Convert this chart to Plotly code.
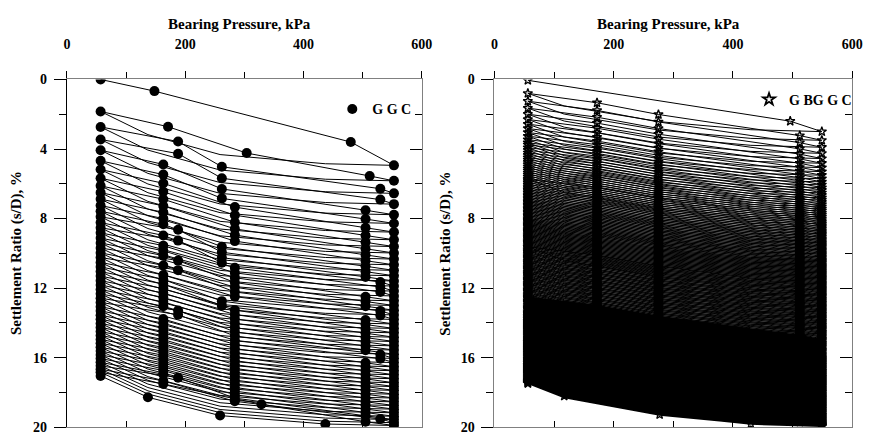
import plotly.graph_objects as go

FONT = "Liberation Serif"

# ---------------- Left panel: G G C ----------------
FIRST_P_L = [57, 148, 480, 553]
FIRST_S_L = [0.0, 0.67, 3.6, 4.94]
S_L = [1.84, 2.73, 3.45, 4.07, 4.68, 5.18, 5.68, 6.12, 6.51, 6.88,
       7.25, 7.58, 7.90, 8.23, 8.53, 8.82, 9.12, 9.40, 9.69, 9.97,
       10.24, 10.52, 10.78, 11.05, 11.31, 11.57, 11.82, 12.08, 12.33, 12.58,
       12.82, 13.07, 13.31, 13.56, 13.79, 14.03, 14.26, 14.50, 14.72, 14.95,
       15.17, 15.40, 15.62, 15.84, 16.05, 16.27, 16.47, 16.66, 16.84]
E_L = [5.83, 6.55, 7.17, 7.78, 8.28, 8.78, 9.22, 9.61, 9.98, 10.33,
       10.66, 10.98, 11.29, 11.59, 11.88, 12.17, 12.45, 12.73, 13.00, 13.27,
       13.54, 13.80, 14.06, 14.32, 14.57, 14.82, 15.07, 15.32, 15.56, 15.80,
       16.04, 16.28, 16.52, 16.75, 16.98, 17.21, 17.44, 17.66, 17.88, 18.10,
       18.32, 18.54, 18.75, 18.96, 19.17, 19.37, 19.56, 19.74, 19.90]
P1_L = [171, 188, 188, 163, 163, 163, 163, 163, 163, 163,
        163, 163, 188, 163, 188, 163, 163, 163, 188, 163,
        188, 163, 163, 163, 163, 163, 163, 163, 163, 188,
        188, 163, 163, 163, 163, 163, 163, 163, 163, 163,
        163, 163, 163, 163, 163, 163, 188, 163, 163]
P2_L = [304, 262, 262, 262, 262, 284, 284, 284, 284, 284,
        284, 262, 262, 262, 262, 284, 284, 284, 284, 284,
        284, 284, 262, 262, 284, 284, 284, 284, 284, 284,
        284, 284, 284, 284, 284, 284, 284, 284, 284, 284,
        284, 284, 284, 284, 284, 284, 284, 284, 329]
P3_L = [512, 530, 530, 505, 505, 505, 505, 505, 505, 505,
        505, 505, 505, 505, 530, 530, 530, 505, 505, 505,
        530, 530, 505, 505, 505, 505, 505, 505, 505, 505,
        530, 530, 505, 505, 505, 505, 505, 505, 505, 505,
        505, 505, 505, 505, 505, 505, 505, 530, 505]
P_MIN_L, P_MAX_L = 57, 553
RELOAD_FRAC_L = [0.0, 0.22, 0.60, 0.93, 1.0]
UNLOAD_P_L = [553, 437, 259, 137, 57]
UNLOAD_FRAC_L = [1.0, 0.97, 0.80, 0.43, 0.0]
S_FINAL_L = 17.05

# ---------------- Right panel: G BG G C ----------------
FIRST_P_R = [56, 496, 549]
FIRST_S_R = [0.05, 2.4, 3.0]
E_R = [3.50, 3.90, 4.25, 4.55, 4.82, 5.07, 5.30, 5.51, 5.71, 5.89,
       6.06, 6.22, 6.37, 6.52, 6.66, 6.80, 6.93, 7.06, 7.19, 7.31,
       7.43, 7.55, 7.67, 7.78, 7.89, 8.00,
       8.10, 8.20, 8.30, 8.40, 8.50, 8.60, 8.69, 8.78, 8.87, 8.96,
       9.05, 9.14, 9.23, 9.31, 9.39, 9.47, 9.55, 9.63, 9.71, 9.79,
       9.87, 9.95, 10.03, 10.11, 10.19, 10.27, 10.35, 10.42, 10.49, 10.56,
       10.63, 10.70, 10.77, 10.84, 10.91, 10.98, 11.05, 11.12, 11.19, 11.26,
       11.33, 11.40, 11.47, 11.54, 11.61, 11.68, 11.75, 11.82, 11.89, 11.96,
       12.03, 12.10, 12.18, 12.24, 12.31, 12.39, 12.45, 12.52, 12.60, 12.66,
       12.73, 12.81, 12.87, 12.94, 13.02, 13.08, 13.15, 13.23, 13.29, 13.36,
       13.44, 13.50, 13.57, 13.65, 13.71, 13.78, 13.86, 13.92, 13.99, 14.07,
       14.13, 14.20, 14.28, 14.34, 14.41, 14.49, 14.55, 14.62, 14.70, 14.76,
       14.83, 14.91, 14.97, 15.04, 15.12, 15.18, 15.25, 15.33, 15.39, 15.46,
       15.54, 15.60, 15.67, 15.75, 15.81, 15.88, 15.96,
       16.01, 16.07, 16.12, 16.18, 16.23, 16.29, 16.34, 16.40, 16.45, 16.51,
       16.56, 16.62, 16.67, 16.73, 16.78, 16.84, 16.89, 16.95, 17.00, 17.06,
       17.11, 17.17, 17.22, 17.28, 17.33, 17.39, 17.44, 17.50, 17.55, 17.61,
       17.66, 17.72, 17.77, 17.83, 17.88, 17.94, 17.99, 18.05, 18.10, 18.16,
       18.21, 18.27, 18.32, 18.38, 18.43, 18.49, 18.54, 18.60, 18.65, 18.71,
       18.76, 18.82, 18.87, 18.93, 18.98, 19.04, 19.09, 19.15, 19.20, 19.26,
       19.31, 19.37, 19.42, 19.48, 19.53, 19.59, 19.64, 19.70, 19.74, 19.79,
       19.83, 19.87, 19.90, 19.93, 19.95]
S_R = [0.80,
       1.25, 1.65, 2.00, 2.30, 2.57, 2.82, 3.05, 3.26, 3.46, 3.64,
       3.76, 3.92, 4.07, 4.22, 4.36, 4.50, 4.63, 4.76, 4.89, 5.01,
       5.13, 5.25, 5.37, 5.48, 5.59, 5.70,
       5.75, 5.85, 5.95, 6.05, 6.15, 6.25, 6.34, 6.43, 6.52, 6.61,
       6.70, 6.79, 6.88, 6.96, 7.04, 7.12, 7.20, 7.28, 7.36, 7.44,
       7.52, 7.60, 7.68, 7.76, 7.84, 7.92, 8.00, 8.07, 8.14, 8.21,
       8.28, 8.35, 8.42, 8.49, 8.56, 8.63, 8.70, 8.77, 8.84, 8.91,
       8.98, 9.05, 9.12, 9.19, 9.26, 9.33, 9.40, 9.47, 9.54, 9.61,
       9.63, 9.70, 9.78, 9.84, 9.91, 9.99, 10.05, 10.12, 10.20, 10.26,
       10.33, 10.41, 10.47, 10.54, 10.62, 10.68, 10.75, 10.83, 10.89, 10.96,
       11.04, 11.10, 11.17, 11.25, 11.31, 11.38, 11.46, 11.52, 11.59, 11.67,
       11.73, 11.80, 11.88, 11.94, 12.01, 12.09, 12.15, 12.22, 12.30, 12.36,
       12.43, 12.51, 12.57, 12.64, 12.72, 12.78, 12.85, 12.93, 12.99, 13.06,
       13.14, 13.20, 13.27, 13.35, 13.41, 13.48, 13.56,
       13.56, 13.62, 13.67, 13.73, 13.78, 13.84, 13.89, 13.95, 14.00, 14.06,
       14.11, 14.17, 14.22, 14.28, 14.33, 14.39, 14.44, 14.50, 14.55, 14.61,
       14.66, 14.72, 14.77, 14.83, 14.88, 14.94, 14.99, 15.05, 15.10, 15.16,
       15.21, 15.27, 15.32, 15.38, 15.43, 15.49, 15.54, 15.60, 15.65, 15.71,
       15.76, 15.82, 15.87, 15.93, 15.98, 16.04, 16.09, 16.15, 16.20, 16.26,
       16.31, 16.37, 16.42, 16.48, 16.53, 16.59, 16.64, 16.70, 16.75, 16.81,
       16.86, 16.92, 16.97, 17.03, 17.08, 17.14, 17.19, 17.25, 17.29, 17.34,
       17.38, 17.42, 17.45, 17.48]
RELOAD_P_R = [56, 172, 275, 512, 549]
RELOAD_FRAC_R = [0.0, 0.20, 0.45, 0.90, 1.0]
UNLOAD_P_R = [549, 430, 277, 117, 56]
UNLOAD_FRAC_R = [1.0, 0.95, 0.74, 0.33, 0.0]
S_FINAL_R = 17.35
DENSE_FROM_R = 118   # cycle index after which the dense (heavier) line styling applies

X_TICKS = [0, 200, 400, 600]
X_MINOR = [100, 300, 500]
Y_TICKS = [0, 4, 8, 12, 16, 20]
Y_MINOR = [2, 6, 10, 14, 18]


def build(first_p, first_s, S, E, reload_pts, reload_frac, unload_p, unload_frac, s_final, split=None):
    segs = [([], [])]
    lx, ly = segs[0]
    lx += list(first_p)
    ly += list(first_s)
    mx, my = list(first_p), list(first_s)
    prev_p, prev = first_p[-1], first_s[-1]
    for k, (s, e) in enumerate(zip(S, E)):
        if split is not None and k == split:
            segs.append(([prev_p], [prev]))
            lx, ly = segs[-1]
        for p, f in zip(unload_p[1:], unload_frac[1:]):
            lx.append(p)
            ly.append(s + f * (prev - s))
        pts = reload_pts(k)
        vals = [s + f * (e - s) for f in reload_frac]
        lx += pts[1:]
        ly += vals[1:]
        mx += pts
        my += vals
        prev_p, prev = pts[-1], e
    for p, f in zip(unload_p[1:], unload_frac[1:]):
        v = s_final + f * (prev - s_final)
        lx.append(p)
        ly.append(v)
        mx.append(p)
        my.append(v)
    return segs, mx, my


segsL, mxL, myL = build(FIRST_P_L, FIRST_S_L, S_L, E_L,
                        lambda k: [P_MIN_L, P1_L[k], P2_L[k], P3_L[k], P_MAX_L],
                        RELOAD_FRAC_L, UNLOAD_P_L, UNLOAD_FRAC_L, S_FINAL_L)
segsR, mxR, myR = build(FIRST_P_R, FIRST_S_R, S_R, E_R,
                        lambda k: list(RELOAD_P_R),
                        RELOAD_FRAC_R, UNLOAD_P_R, UNLOAD_FRAC_R, S_FINAL_R, split=DENSE_FROM_R)

fig = go.Figure()
circle = dict(symbol="circle", size=10, color="black")
star = dict(symbol="star-open", size=7, color="black", line=dict(color="black", width=1.3))
star_leg = dict(symbol="star-open", size=9, color="black", line=dict(color="black", width=1.8))

for lx, ly in segsL:
    fig.add_trace(go.Scatter(x=lx, y=ly, mode="lines", line=dict(color="black", width=1),
                             xaxis="x", yaxis="y", showlegend=False, hoverinfo="skip"))
fig.add_trace(go.Scatter(x=mxL, y=myL, mode="markers", marker=circle,
                         xaxis="x", yaxis="y", showlegend=False, hoverinfo="skip"))
fig.add_trace(go.Scatter(x=[None], y=[None], mode="markers", marker=circle, name="G G C",
                         xaxis="x", yaxis="y", legend="legend"))

for i, (lx, ly) in enumerate(segsR):
    fig.add_trace(go.Scatter(x=lx, y=ly, mode="lines",
                             line=dict(color="black", width=1.0 if i == 0 else 1.4),
                             xaxis="x2", yaxis="y2", showlegend=False, hoverinfo="skip"))
fig.add_trace(go.Scatter(x=mxR, y=myR, mode="markers", marker=star,
                         xaxis="x2", yaxis="y2", showlegend=False, hoverinfo="skip"))
fig.add_trace(go.Scatter(x=[None], y=[None], mode="markers", marker=star_leg, name="G BG G C",
                         xaxis="x2", yaxis="y2", legend="legend2"))

# invisible traces so mirror axes render
for xa, ya in (("x3", "y3"), ("x4", "y4")):
    fig.add_trace(go.Scatter(x=[None], y=[None], xaxis=xa, yaxis=ya,
                             showlegend=False, hoverinfo="skip"))

tick_font = dict(family=FONT, size=14, color="black", weight="bold")
GRAY = "#808080"


def top_x(domain, anchor):
    return dict(domain=domain, anchor=anchor, side="top", range=[0, 600],
                showgrid=False, zeroline=False, showline=True, linecolor=GRAY, linewidth=1,
                ticks="outside", ticklen=7, tickwidth=1, tickcolor="black",
                tickvals=X_TICKS, tickfont=tick_font, ticklabelstandoff=17,
                ticklabeloverflow="allow",
                minor=dict(tickvals=X_MINOR, ticks="outside", ticklen=6, tickcolor="black"))


def bottom_x(over, anchor):
    return dict(overlaying=over, anchor=anchor, side="bottom", range=[0, 600],
                showgrid=False, zeroline=False, showline=True, linecolor=GRAY, linewidth=1,
                ticks="inside", ticklen=6, tickcolor="black", tickvals=X_TICKS + X_MINOR,
                showticklabels=False)


def left_y(domain, anchor, linecolor):
    return dict(domain=domain, anchor=anchor, range=[20, 0],
                showgrid=False, zeroline=False, showline=True, linecolor=linecolor, linewidth=1,
                ticks="outside", ticklen=12, tickwidth=1, tickcolor="black",
                tickvals=Y_TICKS, tickfont=tick_font, ticklabelstandoff=4,
                ticklabeloverflow="allow",
                minor=dict(tickvals=Y_MINOR, ticks="outside", ticklen=7, tickcolor="black"))


def right_y(over, anchor):
    return dict(overlaying=over, anchor=anchor, side="right", range=[20, 0],
                showgrid=False, zeroline=False, showline=True, linecolor=GRAY, linewidth=1,
                ticks="inside", ticklen=12, tickcolor="black", tickvals=Y_TICKS,
                showticklabels=False,
                minor=dict(tickvals=Y_MINOR, ticks="inside", ticklen=7, tickcolor="black"))


W, H = 877, 442
dom_xL = [64 / W, 425 / W]
dom_xR = [499 / W, 863 / W]
dom_y = [7 / H, 367 / H]

title_font = dict(family=FONT, size=15, color="black", weight="bold")
legend_font = dict(family=FONT, size=14, color="black", weight="bold")

fig.update_layout(
    width=W, height=H, autosize=False,
    margin=dict(l=0, r=0, t=0, b=0),
    paper_bgcolor="white", plot_bgcolor="white",
    xaxis=top_x(dom_xL, "y"),
    yaxis=left_y(dom_y, "x", "black"),
    xaxis2=top_x(dom_xR, "y2"),
    yaxis2=left_y(dom_y, "x2", GRAY),
    xaxis3=bottom_x("x", "y"),
    yaxis3=right_y("y", "x"),
    xaxis4=bottom_x("x2", "y2"),
    yaxis4=right_y("y2", "x2"),
    legend=dict(x=334 / W, y=(H - 106) / H, xanchor="left", yanchor="middle",
                bgcolor="rgba(0,0,0,0)", font=legend_font, itemwidth=30),
    legend2=dict(x=758 / W, y=(H - 96) / H, xanchor="left", yanchor="middle",
                 bgcolor="rgba(0,0,0,0)", font=legend_font, itemwidth=30),
    annotations=[
        dict(text="Bearing Pressure, kPa", x=240 / W, y=(H - 18) / H, xref="paper", yref="paper",
             showarrow=False, font=title_font, xanchor="center", yanchor="middle"),
        dict(text="Bearing Pressure, kPa", x=676 / W, y=(H - 18) / H, xref="paper", yref="paper",
             showarrow=False, font=title_font, xanchor="center", yanchor="middle"),
        dict(text="Settlement Ratio (s/D), %", x=13 / W, y=(H - 255) / H, xref="paper", yref="paper",
             showarrow=False, font=title_font, textangle=-90, xanchor="center", yanchor="middle"),
        dict(text="Settlement Ratio (s/D), %", x=449 / W, y=(H - 255) / H, xref="paper", yref="paper",
             showarrow=False, font=title_font, textangle=-90, xanchor="center", yanchor="middle"),
    ],
)

fig.write_html("out.html")
